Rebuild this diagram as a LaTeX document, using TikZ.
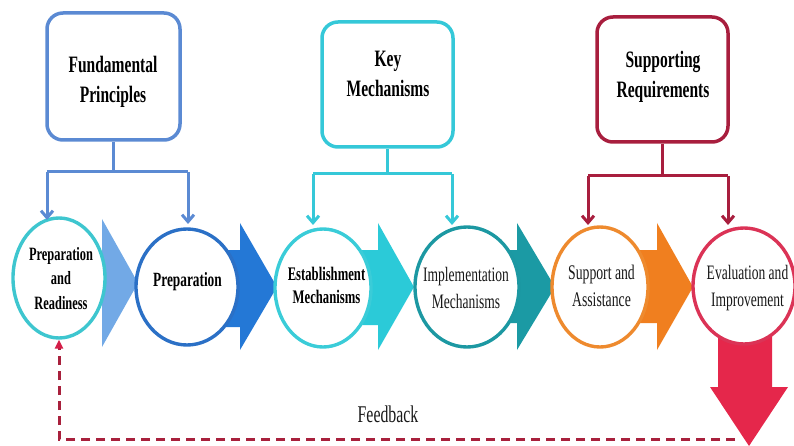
\documentclass[tikz,border=0pt]{standalone}
\usepackage{fontspec}
\setmainfont{Liberation Serif}
\newfontfamily\condserif[FakeStretch=0.66]{Liberation Serif}
\usetikzlibrary{shapes.geometric,arrows.meta}

\definecolor{fpcol}{HTML}{5B8AD3}
\definecolor{kmcol}{HTML}{35C8D8}
\definecolor{srcol}{HTML}{A81E3E}
\definecolor{ringA}{HTML}{3EC6CF}
\definecolor{ringB}{HTML}{2B70C6}
\definecolor{ringC}{HTML}{3ACCD8}
\definecolor{ringD}{HTML}{1C98A2}
\definecolor{ringE}{HTML}{EE8A2E}
\definecolor{ringF}{HTML}{DB3356}
\definecolor{chevA}{HTML}{72A9E6}
\definecolor{chevB}{HTML}{2478D6}
\definecolor{chevC}{HTML}{2BCAD8}
\definecolor{chevD}{HTML}{1B9AA4}
\definecolor{chevE}{HTML}{F07F1F}
\definecolor{downred}{HTML}{E5274B}
\definecolor{fbline}{HTML}{A8203C}
\definecolor{fbtip}{HTML}{D41E48}

\begin{document}
\begin{tikzpicture}[x=1pt,y=-1pt,
  titlebox/.style={draw, line width=3.5pt, rounded corners=16pt, fill=white, inner sep=0pt},
  titletext/.style={align=center, text=black, font=\condserif\bfseries\fontsize{23.5}{30}\selectfont},
  stage/.style={ellipse, draw, line width=3.4pt, fill=white, inner sep=0pt},
  boldstage/.style={align=center, text=black, font=\condserif\bfseries\fontsize{#1}{24.5}\selectfont},
  plainstage/.style={align=center, text=black!90, font=\condserif\fontsize{#1}{27}\selectfont},
  branch/.style={line width=3pt},
  branchtip/.style={branch, -{Straight Barb[length=7pt,width=12pt]}},
  feedback/.style={line width=3pt, dash pattern=on 9pt off 6pt, draw=fbline,
    -{Triangle[length=9pt,width=8pt,color=fbtip]}}
]
\useasboundingbox (0,0) rectangle (794,446);

% chevrons joining the stages (drawn first, they pass behind the rings)
\fill[chevA] (102,219) -- (138,283) -- (102,347) -- cycle;
\fill[chevB] (226,250) -- (240,250) -- (240,223) -- (277,287) -- (240,350) -- (240,327) -- (226,327) -- cycle;
\fill[chevC] (362,250) -- (378,250) -- (378,223) -- (414,287) -- (378,350) -- (378,325) -- (362,325) -- cycle;
\fill[chevD] (505,250) -- (517,250) -- (517,223) -- (555,287) -- (517,350) -- (517,323) -- (505,323) -- cycle;
\fill[chevE] (640,250) -- (657,250) -- (657,223) -- (693,287) -- (657,350) -- (657,323) -- (640,323) -- cycle;
% large downward arrow below the last stage
\fill[downred] (718,330) -- (772,330) -- (772,387) -- (788,387) -- (749,446) -- (710,387) -- (718,387) -- cycle;

% stage rings
\node[stage, draw=ringA, minimum width=92pt, minimum height=120pt] (c1) at (59,278) {};
\node[stage, draw=ringB, minimum width=102pt, minimum height=116pt] (c2) at (187,287) {};
\node[stage, draw=ringC, minimum width=96pt, minimum height=118pt] (c3) at (323,288) {};
\node[stage, draw=ringD, minimum width=104pt, minimum height=120pt] (c4) at (467,287) {};
\node[stage, draw=ringE, minimum width=96pt, minimum height=120pt] (c5) at (600,287) {};
\node[stage, draw=ringF, minimum width=102pt, minimum height=116pt] (c6) at (744,286) {};

% stage labels
\node[boldstage=18.8] (t1) at (61,278.5) {Preparation\\and\\Readiness};
\node[boldstage=20.2] (t2) at (187.5,281.5) {Preparation};
\node[boldstage=19, font=\condserif\bfseries\fontsize{19.2}{23}\selectfont] (t3) at (326.5,285) {Establishment\\Mechanisms};
\node[plainstage=20.5] (t4) at (466,288) {Implementation\\Mechanisms};
\node[plainstage=20.8] (t5) at (601.5,285.5) {Support and\\Assistance};
\node[plainstage=20.5] (t6) at (747.5,288) {Evaluation and\\Improvement};

% heading boxes
\node[titlebox, draw=fpcol, minimum width=133pt, minimum height=127pt] (fp) at (113.5,76.5) {};
\node[titlebox, draw=kmcol, minimum width=131pt, minimum height=125pt] (km) at (387.5,84.5) {};
\node[titlebox, draw=srcol, minimum width=131pt, minimum height=125pt] (sr) at (662.5,79.5) {};
\node[titletext] (fpt) at (113,82) {Fundamental\\Principles};
\node[titletext] (kmt) at (388,74) {Key\\Mechanisms};
\node[titletext] (srt) at (663,77) {Supporting\\Requirements};

% branch points and arrow ends
\coordinate (fpL) at (47,172);   \coordinate (fpR) at (188,172);
\coordinate (kmL) at (313,174);  \coordinate (kmR) at (452,174);
\coordinate (srL) at (588,176);  \coordinate (srR) at (728,176);
\coordinate (e1) at (47,220);    \coordinate (e2) at (188,224);
\coordinate (e3) at (313,225);   \coordinate (e4) at (452,225);
\coordinate (e5) at (588,225);   \coordinate (e6) at (728,225);

% branches from the heading boxes
\draw[branch, fpcol] (fp.south) -- (fp.south |- fpL);
\draw[branch, fpcol] (fpL) -- (fpR);
\draw[branchtip, fpcol] (fpL) -- (e1);
\draw[branchtip, fpcol] (fpR) -- (e2);

\draw[branch, kmcol] (km.south) -- (km.south |- kmL);
\draw[branch, kmcol] (kmL) -- (kmR);
\draw[branchtip, kmcol] (kmL) -- (e3);
\draw[branchtip, kmcol] (kmR) -- (e4);

\draw[branch, srcol] (sr.south) -- (sr.south |- srL);
\draw[branch, srcol] (srL) -- (srR);
\draw[branchtip, srcol] (srL) -- (e5);
\draw[branchtip, srcol] (srR) -- (e6);

% feedback loop back to the first stage
\coordinate (fbstart) at (735,439);
\coordinate (fbcorner) at (59,439);
\draw[feedback] (fbstart) -- (fbcorner) -- (c1.south);
\node[font=\condserif\fontsize{24}{28}\selectfont, text=black!90] (fbl) at (388,414) {Feedback};
\end{tikzpicture}
\end{document}
